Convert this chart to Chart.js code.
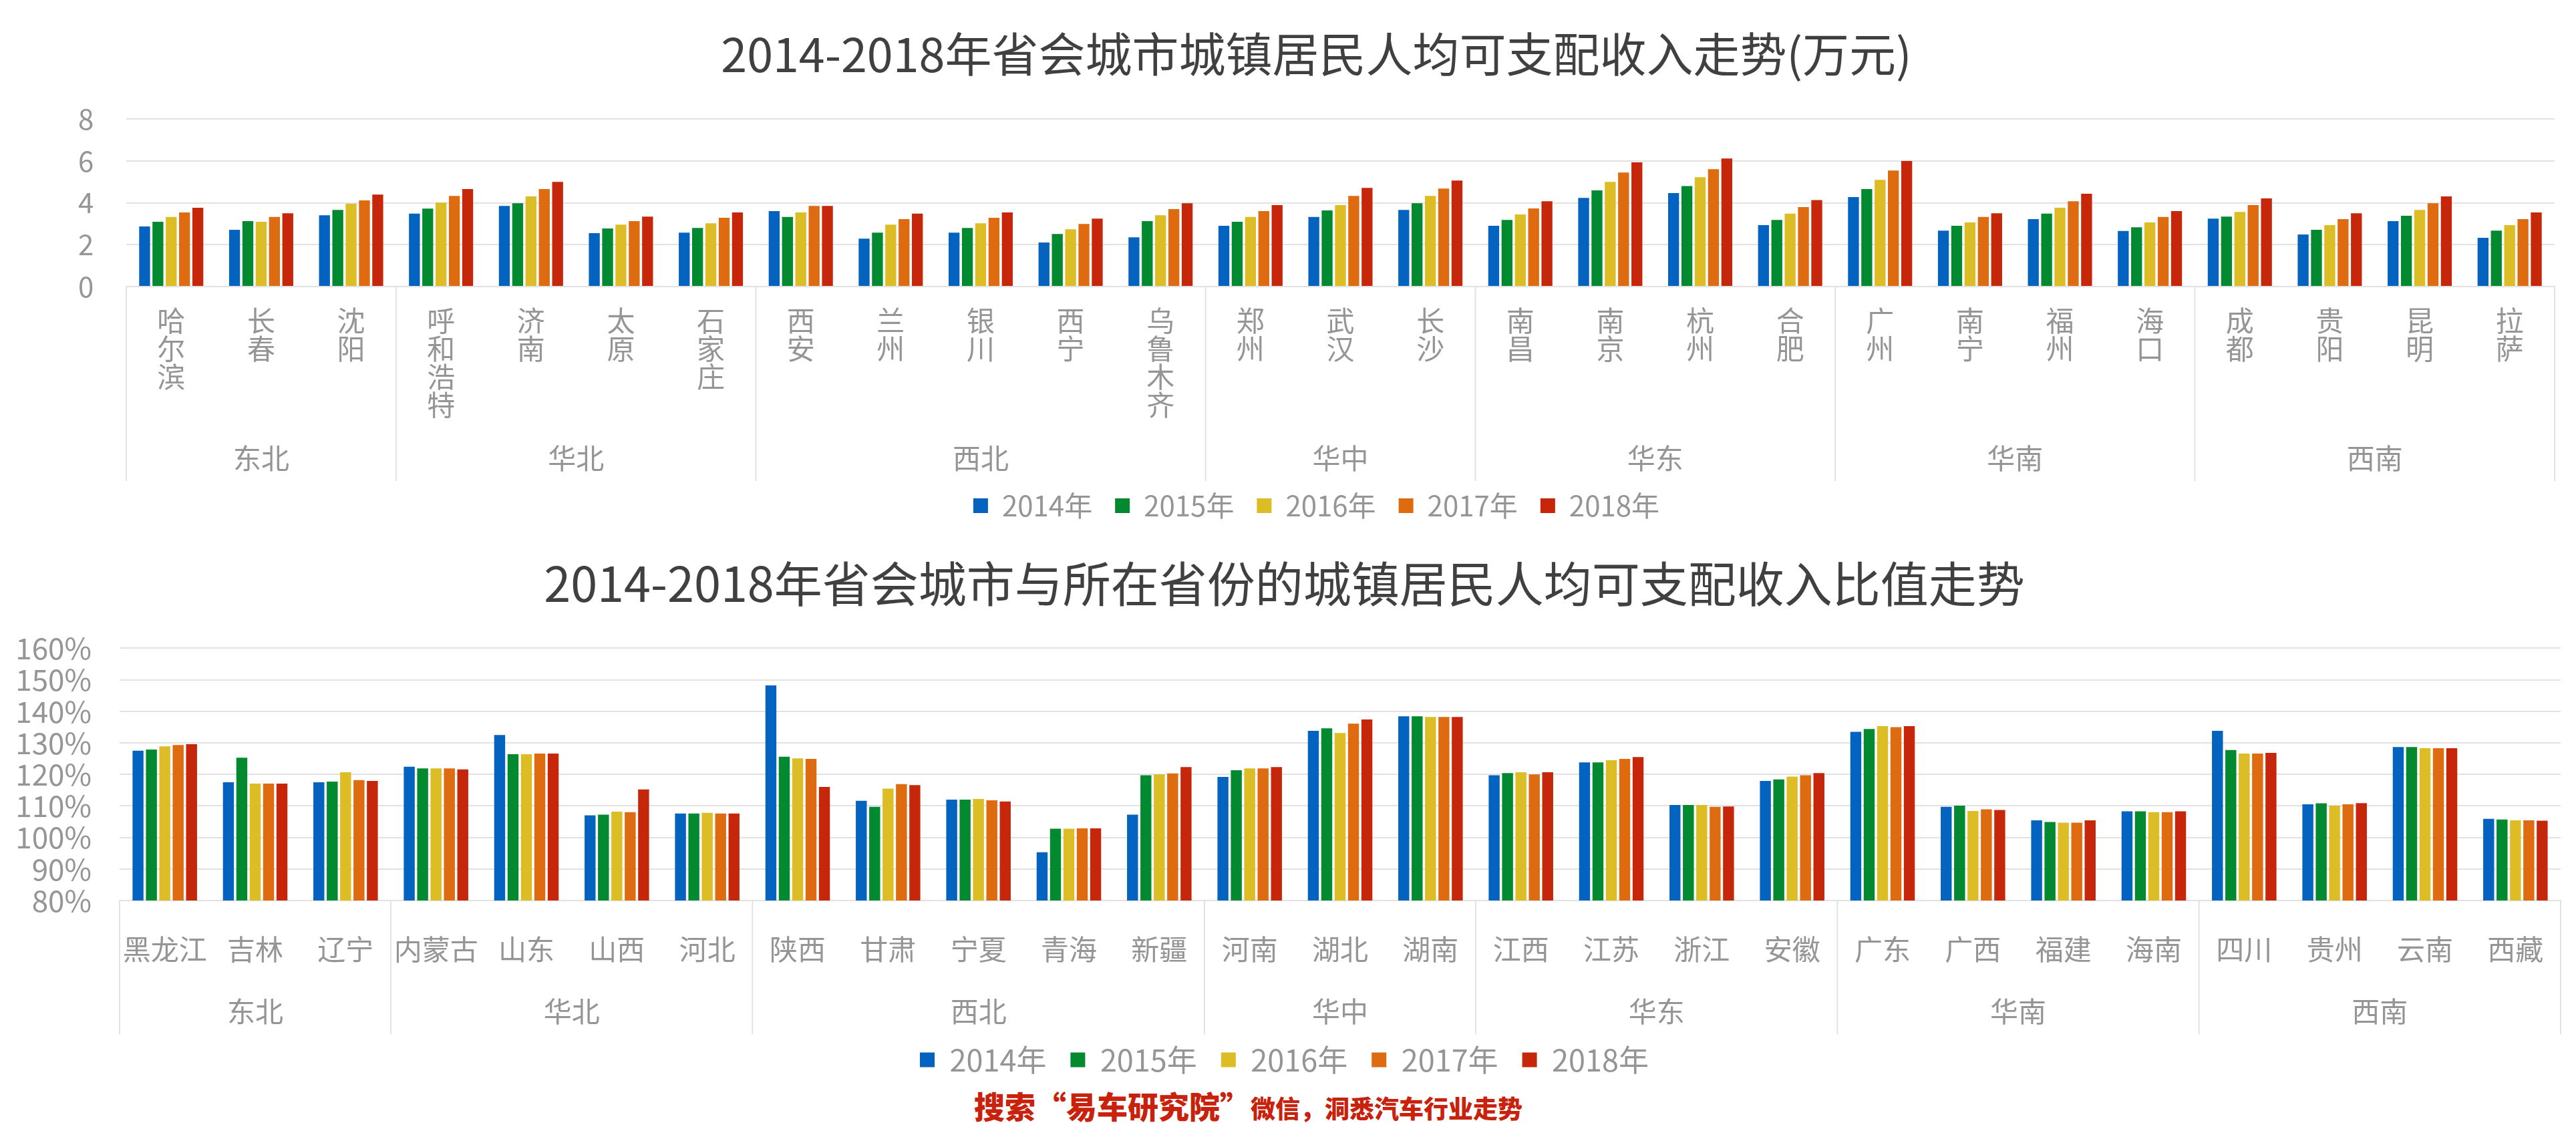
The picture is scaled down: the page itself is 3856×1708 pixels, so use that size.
<!DOCTYPE html>
<html>
<head>
<meta charset="utf-8">
<script src="https://cdn.jsdelivr.net/npm/chart.js@4"></script>
<style>
  body { margin: 0; background: #fff; width: 3856px; height: 1708px; position: relative; overflow: hidden; }
  canvas { position: absolute; left: 0; }
  #incomeChart { top: 0; }
  #ratioChart { top: 800px; }
  #footer { position: absolute; left: 1458px; top: 1621px; white-space: nowrap; color: #c8210c;
            font-family: "Noto Sans CJK SC", sans-serif; font-weight: 900; }
</style>
</head>
<body>
<canvas id="incomeChart" width="3856" height="788"></canvas>
<canvas id="ratioChart" width="3856" height="819"></canvas>
<div id="footer"><span style="font-size:46px">搜索“易车研究院”</span><span style="font-size:37px">微信，洞悉汽车行业走势</span></div>
<script>
const years = ['2014年', '2015年', '2016年', '2017年', '2018年'];
const colors = ['#0563c0', '#03892f', '#dcbd25', '#de6b10', '#c6270a'];

const regions = ['东北', '华北', '西北', '华中', '华东', '华南', '西南'];
const regionSizes = [3, 4, 5, 3, 4, 4, 4];

const cities = ['哈尔滨', '长春', '沈阳', '呼和浩特', '济南', '太原', '石家庄', '西安', '兰州', '银川', '西宁', '乌鲁木齐',
  '郑州', '武汉', '长沙', '南昌', '南京', '杭州', '合肥', '广州', '南宁', '福州', '海口', '成都', '贵阳', '昆明', '拉萨'];
const provinces = ['黑龙江', '吉林', '辽宁', '内蒙古', '山东', '山西', '河北', '陕西', '甘肃', '宁夏', '青海', '新疆',
  '河南', '湖北', '湖南', '江西', '江苏', '浙江', '安徽', '广东', '广西', '福建', '海南', '四川', '贵州', '云南', '西藏'];

// 城镇居民人均可支配收入 (万元)
const income2014 = [2.87, 2.71, 3.40, 3.48, 3.85, 2.55, 2.57, 3.60, 2.29, 2.57, 2.10, 2.35, 2.90, 3.32, 3.66, 2.90, 4.23, 4.46, 2.93, 4.27, 2.67, 3.22, 2.65, 3.24, 2.49, 3.12, 2.33];
const income2015 = [3.09, 3.12, 3.66, 3.72, 3.98, 2.77, 2.80, 3.32, 2.57, 2.80, 2.51, 3.12, 3.09, 3.63, 3.98, 3.18, 4.59, 4.80, 3.18, 4.65, 2.90, 3.48, 2.83, 3.34, 2.71, 3.38, 2.67];
const income2016 = [3.32, 3.09, 3.95, 4.01, 4.30, 2.96, 3.02, 3.54, 2.96, 3.02, 2.73, 3.40, 3.32, 3.89, 4.33, 3.44, 5.00, 5.22, 3.48, 5.09, 3.06, 3.76, 3.06, 3.56, 2.93, 3.66, 2.93];
const income2017 = [3.54, 3.32, 4.11, 4.33, 4.65, 3.12, 3.28, 3.85, 3.22, 3.28, 2.99, 3.70, 3.60, 4.33, 4.68, 3.73, 5.44, 5.60, 3.79, 5.54, 3.32, 4.07, 3.32, 3.89, 3.22, 3.98, 3.22];
const income2018 = [3.76, 3.50, 4.39, 4.65, 5.00, 3.34, 3.54, 3.85, 3.48, 3.54, 3.24, 3.98, 3.89, 4.71, 5.06, 4.07, 5.93, 6.11, 4.13, 5.99, 3.50, 4.43, 3.60, 4.21, 3.50, 4.30, 3.54];

// 省会城市与所在省份比值 (%)
const ratio2014 = [127.5, 117.5, 117.5, 122.4, 132.5, 107.0, 107.6, 148.2, 111.6, 112.0, 95.3, 107.2, 119.2, 133.8, 138.4, 119.7, 123.8, 110.3, 117.9, 133.5, 109.7, 105.4, 108.3, 133.8, 110.5, 128.7, 105.9];
const ratio2015 = [127.9, 125.3, 117.7, 121.9, 126.4, 107.2, 107.6, 125.6, 109.7, 112.0, 102.8, 119.7, 121.3, 134.6, 138.4, 120.4, 123.8, 110.3, 118.4, 134.4, 110.1, 104.9, 108.3, 127.7, 110.8, 128.7, 105.7];
const ratio2016 = [128.9, 117.1, 120.7, 121.9, 126.4, 108.2, 107.8, 125.1, 115.5, 112.2, 102.8, 120.0, 121.9, 133.1, 138.2, 120.7, 124.5, 110.3, 119.3, 135.3, 108.4, 104.7, 108.0, 126.6, 110.1, 128.3, 105.4];
const ratio2017 = [129.3, 117.1, 118.2, 121.9, 126.6, 108.0, 107.6, 124.9, 116.9, 111.8, 102.9, 120.3, 121.9, 136.1, 138.2, 120.0, 124.9, 109.7, 119.7, 135.0, 108.9, 104.7, 108.0, 126.6, 110.5, 128.3, 105.4];
const ratio2018 = [129.6, 117.1, 117.9, 121.6, 126.6, 115.2, 107.6, 116.0, 116.6, 111.4, 102.9, 122.3, 122.3, 137.4, 138.2, 120.7, 125.5, 109.8, 120.4, 135.3, 108.7, 105.4, 108.3, 126.8, 110.9, 128.3, 105.3];

const FONT = '"Noto Sans CJK SC", "Noto Sans", sans-serif';
const TEXT_GRAY = '#959595';
const LINE_GRAY = '#e2e2e2';

// draws the region level of the axis: separators + region names
const regionAxis = {
  id: 'regionAxis',
  afterDraw(chart, args, opts) {
    const x = chart.scales.x;
    const ctx = chart.ctx;
    const half = (x.getPixelForValue(1) - x.getPixelForValue(0)) / 2;
    const top = chart.chartArea.bottom;
    ctx.save();
    ctx.strokeStyle = LINE_GRAY;
    ctx.lineWidth = 2;
    ctx.fillStyle = TEXT_GRAY;
    ctx.font = opts.fontSize + 'px ' + FONT;
    ctx.textAlign = 'center';
    ctx.textBaseline = 'middle';
    let start = 0;
    regions.forEach((name, i) => {
      const n = regionSizes[i];
      const x0 = x.getPixelForValue(start) - half;
      const x1 = x.getPixelForValue(start + n - 1) + half;
      ctx.beginPath();
      ctx.moveTo(x0, top);
      ctx.lineTo(x0, top + opts.depth);
      if (i === regions.length - 1) {
        ctx.moveTo(x1, top);
        ctx.lineTo(x1, top + opts.depth);
      }
      ctx.stroke();
      ctx.fillText(name, (x0 + x1) / 2, top + opts.labelY);
      start += n;
    });
    ctx.restore();
  }
};

function makeDatasets(series) {
  return series.map((data, i) => ({
    label: years[i],
    data: data,
    backgroundColor: colors[i],
    borderWidth: 0,
    barPercentage: 0.82,
    categoryPercentage: 0.74
  }));
}

function makeChart(canvasId, cfg) {
  new Chart(document.getElementById(canvasId), {
    type: 'bar',
    data: {
      labels: cfg.labels,
      datasets: makeDatasets(cfg.series)
    },
    options: {
      responsive: false,
      animation: false,
      devicePixelRatio: 1,
      layout: { padding: { left: cfg.padLeft, right: cfg.padRight } },
      plugins: {
        title: {
          display: true,
          text: cfg.title,
          color: '#404040',
          font: { family: FONT, size: cfg.titleSize, weight: 'normal', lineHeight: 1.2 },
          padding: cfg.titlePadding
        },
        legend: {
          position: 'bottom',
          labels: {
            color: TEXT_GRAY,
            font: { family: FONT, size: cfg.legendFont },
            boxWidth: 22,
            boxHeight: 22,
            padding: cfg.legendPad
          }
        },
        tooltip: { enabled: false },
        regionAxis: cfg.regionAxis
      },
      scales: {
        x: {
          grid: { display: false },
          border: { display: true, color: LINE_GRAY, width: 2 },
          ticks: {
            color: TEXT_GRAY,
            font: { family: FONT, size: 42, lineHeight: 1.0 },
            padding: cfg.xTickPad,
            maxRotation: 0,
            autoSkip: false
          },
          afterFit: s => { s.height = cfg.xHeight; }
        },
        y: {
          min: cfg.yMin,
          max: cfg.yMax,
          grid: { color: LINE_GRAY, lineWidth: 2, drawTicks: false },
          border: { display: false },
          ticks: {
            stepSize: cfg.yStep,
            autoSkip: false,
            color: TEXT_GRAY,
            font: { family: FONT, size: cfg.yFont, lineHeight: 1.0 },
            padding: cfg.yTickPad,
            crossAlign: cfg.yAlign,
            callback: cfg.yFormat
          },
          afterFit: s => { s.width = cfg.yWidth; }
        }
      }
    },
    plugins: [regionAxis]
  });
}

makeChart('incomeChart', {
  title: '2014-2018年省会城市城镇居民人均可支配收入走势(万元)',
  titleSize: 70,
  labels: cities.map(c => c.split('')),
  series: [income2014, income2015, income2016, income2017, income2018],
  padLeft: 117, padRight: 32,
  yWidth: 72, yTickPad: 0, yAlign: 'far', yFont: 42,
  yMin: 0, yMax: 8, yStep: 2,
  yFormat: v => String(v),
  titlePadding: { top: 39, bottom: 55 },
  xHeight: 273, xTickPad: 22,
  legendFont: 42, legendPad: 34,
  regionAxis: { depth: 291, labelY: 257, fontSize: 42 }
});

makeChart('ratioChart', {
  title: '2014-2018年省会城市与所在省份的城镇居民人均可支配收入比值走势',
  titleSize: 72,
  labels: provinces,
  series: [ratio2014, ratio2015, ratio2016, ratio2017, ratio2018],
  padLeft: 12, padRight: 23,
  yWidth: 167, yTickPad: 42, yAlign: 'near', yFont: 44,
  yMin: 80, yMax: 160, yStep: 10,
  yFormat: v => v + '%',
  titlePadding: { top: 30, bottom: 54 },
  xHeight: 180, xTickPad: 44,
  legendFont: 45, legendPad: 36,
  regionAxis: { depth: 200, labelY: 166, fontSize: 42 }
});
</script>
</body>
</html>
